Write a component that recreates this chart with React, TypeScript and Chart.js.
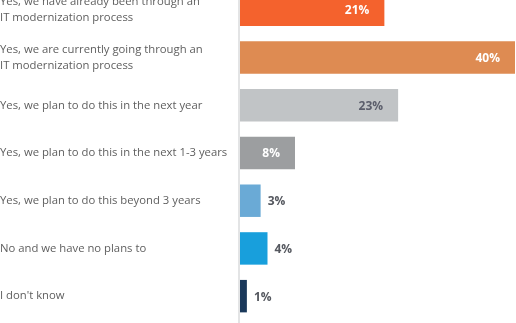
import React, { useEffect, useRef } from "react";
import { Chart, registerables } from "chart.js";

Chart.register(...registerables);

const categories: (string | string[])[] = [
  ["Yes, we have already been through an", "IT modernization process"],
  ["Yes, we are currently going through an", "IT modernization process"],
  "Yes, we plan to do this in the next year",
  "Yes, we plan to do this in the next 1-3 years",
  "Yes, we plan to do this beyond 3 years",
  "No and we have no plans to",
  "I don't know",
];
const values = [21, 40, 23, 8, 3, 4, 1];

const barColors = ["#F4622D", "#DE8B52", "#C1C4C6", "#9C9EA0", "#6AAAD6", "#189FDC", "#1A385A"];
const insideLabelColors = ["#FFFFFF", "#FFFFFF", "#5B5E6B", "#FFFFFF", "#FFFFFF", "#FFFFFF", "#FFFFFF"];
const outsideLabelColor = "#55585F";

const axisLinePlugin = {
  id: "axisLine",
  beforeDatasetsDraw(chart: any) {
    const ctx = chart.ctx;
    const x = chart.scales.x.getPixelForValue(0) - 1;
    ctx.save();
    ctx.strokeStyle = "#E3E4E5";
    ctx.lineWidth = 2;
    ctx.beginPath();
    ctx.moveTo(x, 0);
    ctx.lineTo(x, chart.height);
    ctx.stroke();
    ctx.restore();
  },
};

const valueLabelPlugin = {
  id: "valueLabels",
  afterDatasetsDraw(chart: any) {
    const ctx = chart.ctx;
    const meta = chart.getDatasetMeta(0);
    ctx.save();
    ctx.font = "bold 12px 'Open Sans'";
    ctx.textBaseline = "middle";
    meta.data.forEach((bar: any, i: number) => {
      const v = values[i];
      const text = v + "%";
      if (v >= 5) {
        ctx.fillStyle = insideLabelColors[i];
        ctx.textAlign = "right";
        ctx.fillText(text, bar.x - 15, bar.y + 1);
      } else {
        ctx.fillStyle = outsideLabelColor;
        ctx.textAlign = "left";
        ctx.fillText(text, bar.x + 7, bar.y + 1);
      }
    });
    ctx.restore();
  },
};

export default function App() {
  const ref = useRef<HTMLCanvasElement>(null);
  useEffect(() => {
    if (!ref.current) return;
    const chart = new Chart(ref.current, {
      type: "bar",
      data: {
        labels: categories,
        datasets: [
          {
            data: values,
            backgroundColor: barColors,
            borderWidth: 0,
            barPercentage: 0.68,
            categoryPercentage: 1,
          },
        ],
      },
      options: {
        indexAxis: "y",
        responsive: false,
        animation: false,
        layout: { padding: { top: 0, right: 1, bottom: 3, left: 0 } },
        plugins: { legend: { display: false }, tooltip: { enabled: false } },
        scales: {
          x: { display: false, min: 0, max: 40 },
          y: {
            grid: { display: false, drawTicks: false },
            border: { display: false },
            afterFit(scale: any) {
              scale.width = 240;
              scale.paddingTop = 0;
              scale.paddingBottom = 0;
            },
            ticks: {
              crossAlign: "far",
              padding: 0,
              color: "#5E5E5E",
              font: { family: "'Open Sans'", size: 11.3, lineHeight: 1.42 },
            },
          },
        },
      },
      plugins: [axisLinePlugin, valueLabelPlugin],
    });
    return () => chart.destroy();
  }, []);
  return (
    <div
      style={{
        position: "fixed",
        left: 0,
        top: 0,
        width: 516,
        height: 323,
        overflow: "hidden",
        background: "#fff",
      }}
    >
      <canvas
        ref={ref}
        width={516}
        height={337}
        style={{ position: "absolute", left: 0, top: -14, width: 516, height: 337 }}
      />
    </div>
  );
}
